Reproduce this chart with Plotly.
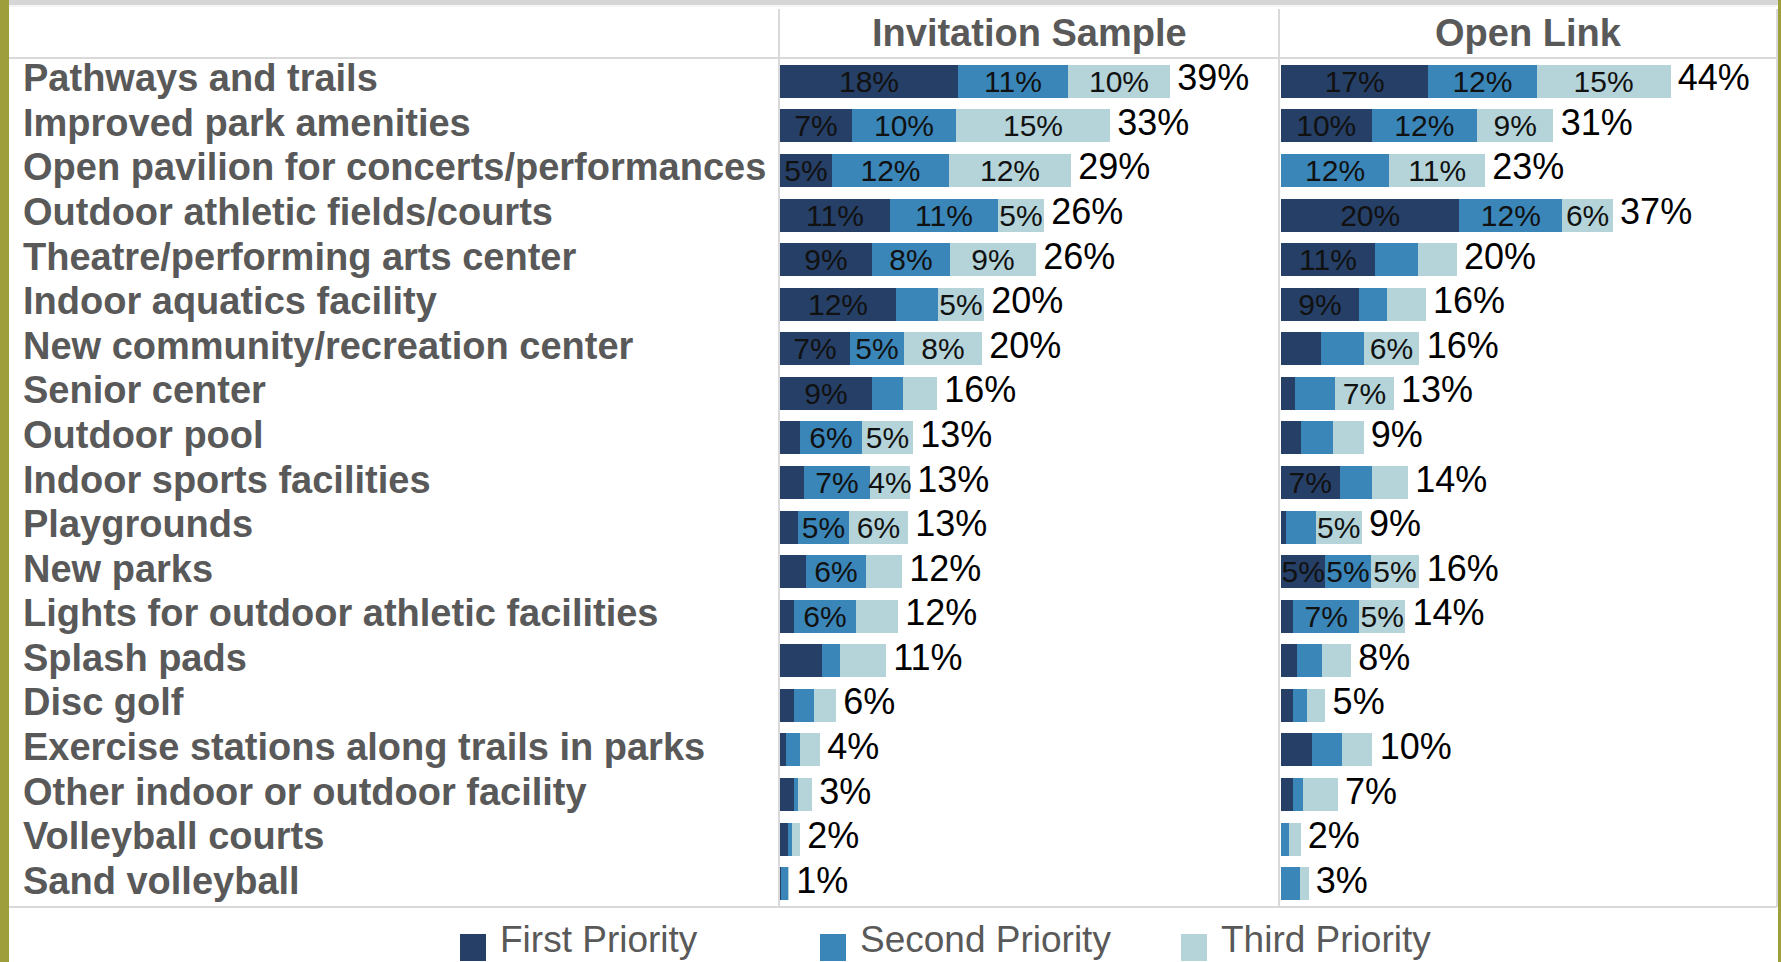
import plotly.graph_objects as go
import numpy as np

W, H = 1781, 962

categories = [
    "Pathways and trails", "Improved park amenities",
    "Open pavilion for concerts/performances", "Outdoor athletic fields/courts",
    "Theatre/performing arts center", "Indoor aquatics facility",
    "New community/recreation center", "Senior center", "Outdoor pool",
    "Indoor sports facilities", "Playgrounds", "New parks",
    "Lights for outdoor athletic facilities", "Splash pads", "Disc golf",
    "Exercise stations along trails in parks", "Other indoor or outdoor facility",
    "Volleyball courts", "Sand volleyball",
]
panel_titles = ["Invitation Sample", "Open Link"]
series_names = ["First Priority", "Second Priority", "Third Priority"]

# Invitation Sample
inv_first = [17.8, 7.2, 5.2, 11.0, 9.2, 11.6, 7.0, 9.2, 2.0, 2.4, 1.8, 2.6, 1.4, 4.2, 1.4, 0.6, 1.4, 0.8, 0.1]
inv_second = [11.0, 10.4, 11.7, 10.8, 7.8, 4.2, 5.4, 3.1, 6.2, 6.6, 5.1, 6.0, 6.2, 1.8, 2.0, 1.4, 0.4, 0.35, 0.7]
inv_third = [10.2, 15.4, 12.2, 4.6, 8.6, 4.6, 7.8, 3.4, 5.1, 4.0, 5.9, 3.6, 4.2, 4.6, 2.2, 2.0, 1.4, 0.85, 0.1]
inv_total = ["39%", "33%", "29%", "26%", "26%", "20%", "20%", "16%", "13%", "13%", "13%", "12%", "12%",
             "11%", "6%", "4%", "3%", "2%", "1%"]
inv_first_lbl = ["18%", "7%", "5%", "11%", "9%", "12%", "7%", "9%", "", "", "", "", "", "", "", "", "", "", ""]
inv_second_lbl = ["11%", "10%", "12%", "11%", "8%", "", "5%", "", "6%", "7%", "5%", "6%", "6%", "", "", "", "", "", ""]
inv_third_lbl = ["10%", "15%", "12%", "5%", "9%", "5%", "8%", "", "5%", "4%", "6%", "", "", "", "", "", "", "", ""]

# Open Link
open_first = [16.6, 10.2, 0.0, 20.1, 10.6, 8.8, 4.5, 1.6, 2.3, 6.6, 0.6, 5.0, 1.4, 1.8, 1.4, 3.5, 1.4, 0.0, 0.0]
open_second = [12.2, 11.9, 12.2, 11.6, 4.8, 3.2, 4.8, 4.5, 3.6, 3.7, 3.3, 5.1, 7.4, 2.8, 1.5, 3.4, 1.1, 0.9, 2.1]
open_third = [15.1, 8.6, 10.8, 5.7, 4.4, 4.3, 6.3, 6.6, 3.4, 4.0, 5.2, 5.5, 5.2, 3.3, 2.1, 3.4, 3.9, 1.3, 1.0]
open_total = ["44%", "31%", "23%", "37%", "20%", "16%", "16%", "13%", "9%", "14%", "9%", "16%", "14%",
              "8%", "5%", "10%", "7%", "2%", "3%"]
open_first_lbl = ["17%", "10%", "", "20%", "11%", "9%", "", "", "", "7%", "", "5%", "", "", "", "", "", "", ""]
open_second_lbl = ["12%", "12%", "12%", "12%", "", "", "", "", "", "", "", "5%", "7%", "", "", "", "", "", ""]
open_third_lbl = ["15%", "9%", "11%", "6%", "", "", "6%", "7%", "", "", "5%", "5%", "5%", "", "", "", "", "", ""]

colors = ["#253F66", "#3A86B8", "#B4D4D9"]
FONT = "Liberation Sans, Arial, sans-serif"
GREY = "#595959"
LINE = "#D9D9D9"


def px(x):
    return x / W


def py(y):
    return 1 - y / H


fig = go.Figure()

panels = [
    ([inv_first, inv_second, inv_third], [inv_first_lbl, inv_second_lbl, inv_third_lbl], inv_total, "x", "y"),
    ([open_first, open_second, open_third], [open_first_lbl, open_second_lbl, open_third_lbl], open_total, "x2", "y2"),
]

for vals, lbls, totals, xa, ya in panels:
    for name, v, lb, c in zip(series_names, vals, lbls, colors):
        fig.add_trace(go.Bar(
            y=categories, x=v, orientation="h", name=name, marker=dict(color=c, line=dict(width=0)),
            text=lb, textposition="inside", insidetextanchor="middle", textangle=0,
            textfont=dict(family=FONT, size=30, color="#111111"),
            xaxis=xa, yaxis=ya, showlegend=False, hoverinfo="skip",
        ))
    sums = np.sum(np.array(vals), axis=0)
    fig.add_trace(go.Scatter(
        y=categories, x=sums, mode="markers+text", text=totals, textposition="middle right",
        marker=dict(size=10, color="rgba(0,0,0,0)"),
        textfont=dict(family=FONT, size=36, color="#000000"), cliponaxis=False,
        xaxis=xa, yaxis=ya, showlegend=False, hoverinfo="skip",
    ))

ydom = [py(906), py(59)]
yax = dict(domain=ydom, type="category", categoryorder="array", categoryarray=categories,
           range=[len(categories) - 0.5, -0.5], visible=False, fixedrange=True)

fig.update_layout(
    width=W, height=H, margin=dict(l=0, r=0, t=0, b=0),
    paper_bgcolor="white", plot_bgcolor="white",
    barmode="stack", bargap=0.26,
    uniformtext=dict(minsize=30, mode="show"),
    xaxis=dict(domain=[px(780), px(1280)], range=[0, 50], visible=False, fixedrange=True),
    xaxis2=dict(domain=[px(1281), px(1777)], range=[0, 55.9], visible=False, fixedrange=True),
    yaxis=yax,
    yaxis2=dict(yax, anchor="x2"),
    showlegend=False,
)

shapes = []
# outer decorations
shapes.append(dict(type="rect", xref="paper", yref="paper", x0=0, x1=px(9), y0=0, y1=1,
                   fillcolor="#9E9E3C", line=dict(width=0), layer="below"))
shapes.append(dict(type="rect", xref="paper", yref="paper", x0=px(1778), x1=1, y0=0, y1=1,
                   fillcolor="#9E9E3C", line=dict(width=0), layer="below"))
shapes.append(dict(type="rect", xref="paper", yref="paper", x0=px(9), x1=px(1778), y0=py(5), y1=1,
                   fillcolor="#D6D6D6", line=dict(width=0), layer="below"))
# table lines
for y in (58, 907):
    shapes.append(dict(type="line", xref="paper", yref="paper", x0=px(9), x1=px(1777), y0=py(y), y1=py(y),
                       line=dict(color=LINE, width=2), layer="below"))
for x in (779, 1279, 1777):
    shapes.append(dict(type="line", xref="paper", yref="paper", x0=px(x), x1=px(x), y0=py(907), y1=py(9),
                       line=dict(color=LINE, width=2), layer="below"))
shapes.append(dict(type="line", xref="paper", yref="paper", x0=px(9), x1=px(1777), y0=py(6), y1=py(6),
                   line=dict(color="#EBEBEB", width=1), layer="below"))

annotations = []
# panel headers
for t, cx in zip(panel_titles, ((779 + 1279) / 2, (1279 + 1777) / 2)):
    annotations.append(dict(text=f"<b>{t}</b>", x=px(cx), y=py(33), xref="paper", yref="paper",
                            xanchor="center", yanchor="middle", showarrow=False,
                            font=dict(family=FONT, size=38, color=GREY)))
# category labels
for c in categories:
    annotations.append(dict(text=f"<b>{c}</b>", x=px(21), y=c, xref="paper", yref="y",
                            xanchor="left", yanchor="middle", showarrow=False, yshift=3,
                            font=dict(family=FONT, size=38, color=GREY)))
# legend
for name, c, lx in zip(series_names, colors, (460, 820, 1181)):
    shapes.append(dict(type="rect", xref="paper", yref="paper", x0=px(lx), x1=px(lx + 26),
                       y0=py(961), y1=py(934), fillcolor=c, line=dict(width=0)))
    annotations.append(dict(text=name, x=px(lx + 38), y=py(962), xref="paper", yref="paper",
                            xanchor="left", yanchor="bottom", showarrow=False,
                            font=dict(family=FONT, size=37, color=GREY)))

fig.update_layout(shapes=shapes, annotations=annotations)
fig.write_html("out.html", config={"displayModeBar": False},
               post_script="document.body.style.margin='0';document.body.style.padding='0';"
                           "document.documentElement.style.overflow='hidden';")
